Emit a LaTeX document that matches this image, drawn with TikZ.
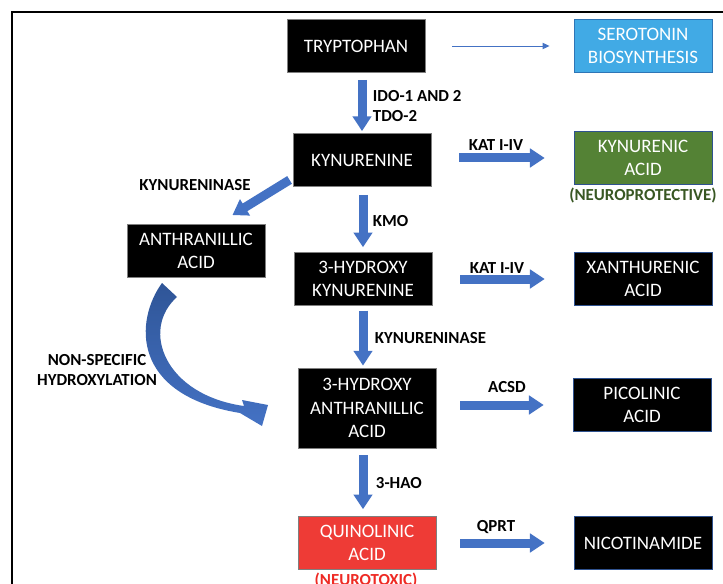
\documentclass[tikz,border=0pt]{standalone}
\usepackage{fontspec}
\setmainfont{Carlito}
\usetikzlibrary{arrows.meta,calc}
\definecolor{pathblue}{HTML}{4472C4}
\definecolor{curvetop}{HTML}{2F5597}
\definecolor{edgeblue}{HTML}{2F528F}
\definecolor{boxgray}{HTML}{7F7F7F}
\definecolor{serofill}{HTML}{41AAE5}
\definecolor{seroedge}{HTML}{2E75B6}
\definecolor{kynafill}{HTML}{548235}
\definecolor{protgreen}{HTML}{385723}
\definecolor{qafill}{HTML}{EE3B36}
\definecolor{toxred}{HTML}{EE2A24}
\begin{document}
\begin{tikzpicture}[x=0.025cm, y=-0.025cm,
    box/.style={draw=boxgray, fill=black, text=white, line width=0.6pt,
        minimum width=3.45cm, minimum height=1.325cm, inner sep=1pt,
        align=center, font=\fontsize{13.5}{16.5}\selectfont},
    enz/.style={inner sep=0.5pt, align=center,
        font=\fontsize{12}{14.2}\selectfont\bfseries},
    flow/.style={draw=pathblue, line width=6.4pt,
        -{Triangle[width=13pt,length=10.5pt]}},
    thinflow/.style={draw=pathblue, line width=0.7pt,
        -{Triangle[width=4.5pt,length=5pt]}}]
    \useasboundingbox (0,0) rectangle (723,584);
    \draw[line width=1.1pt] (12,600) -- (12,12) -- (740,12);
    % boxes
    \node (tryp) at (356,46) [box] {TRYPTOPHAN};
    \node (sero) at (643,46) [box, fill=serofill, draw=seroedge] {SEROTONIN\\BIOSYNTHESIS};
    \node (kyn) at (362,160) [box] {KYNURENINE};
    \node (kyna) at (643,158) [box, fill=kynafill, draw=edgeblue] {KYNURENIC\\ACID};
    \node (prot) at (643,196) [enz, text=protgreen] {(NEUROPROTECTIVE)};
    \node (anth) at (196,251) [box] {ANTHRANILLIC\\ACID};
    \node (hk) at (363,279) [box] {3-HYDROXY\\KYNURENINE};
    \node (xa) at (643,279) [box, draw=edgeblue] {XANTHURENIC\\ACID};
    \node (haa) at (367,408) [box, minimum height=2cm] {3-HYDROXY\\ANTHRANILLIC\\ACID};
    \node (pa) at (642,405) [box, draw=edgeblue] {PICOLINIC\\ACID};
    \node (qa) at (367,543) [box, fill=qafill] {QUINOLINIC\\ACID};
    \node (toxic) at (366,581) [enz, text=toxred] {(NEUROTOXIC)};
    \node (nam) at (643,543) [box, draw=edgeblue] {NICOTINAMIDE};
    % enzymes
    \node (ido) at (372,106) [enz, anchor=west, align=left] {IDO-1 AND 2\\TDO-2};
    \node (kmo) at (372,221) [enz, anchor=west] {KMO};
    \node (kase) at (374,338) [enz, anchor=west] {KYNURENINASE};
    \node (hao) at (375,483) [enz, anchor=west] {3-HAO};
    \node (kat1) at (496,145) [enz] {KAT I-IV};
    \node (kat2) at (497,268) [enz] {KAT I-IV};
    \node (acsd) at (507,387) [enz] {ACSD};
    \node (qprt) at (496,527) [enz] {QPRT};
    \node (kase2) at (195,185) [enz] {KYNURENINASE};
    \node (nsh) at (97,370) [enz] {NON-SPECIFIC\\HYDROXYLATION};
    % arrows
    \draw[thinflow, shorten <=0.675cm, shorten >=0.6cm] (tryp.east) -- (sero.west);
    \draw[flow, shorten <=0.175cm, shorten >=0.05cm] (kyn.north |- tryp.south) -- (kyn.north);
    \draw[flow, shorten <=0.2cm, shorten >=0.12cm] (hk.north |- kyn.south) -- (hk.north);
    \draw[flow, shorten <=0.12cm, shorten >=0.05cm] (hk.south) -- (hk.south |- haa.north);
    \draw[flow, shorten <=0.17cm, shorten >=0.17cm] (hk.south |- haa.south) -- (hk.south |- qa.north);
    \draw[flow, shorten <=0.7cm, shorten >=0.72cm] (kyn.east |- kyna) -- (kyna.west);
    \draw[flow, shorten <=0.7cm, shorten >=0.72cm] (hk.east) -- (xa.west);
    \draw[flow, shorten <=0.6cm, shorten >=0.72cm] (haa.east |- pa) -- (pa.west);
    \draw[flow, shorten <=0.6cm, shorten >=0.72cm] (qa.east) -- (nam.west);
    \draw[flow] ($(kyn.south west)+(-3,-7)$) -- ($(anth.north east)+(-33,-9)$);
    \shade[top color=curvetop, bottom color=pathblue]
        (162,283) .. controls (135,320) and (130,395) .. (240,413)
        -- (262,426) -- (268,405) -- (242,400) -- (244,406)
        .. controls (165,395) and (140,330) .. (177,297) -- cycle;
\end{tikzpicture}
\end{document}
